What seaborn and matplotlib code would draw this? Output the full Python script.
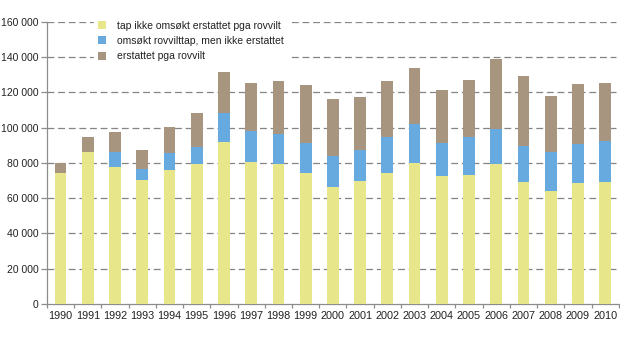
import matplotlib
matplotlib.use("Agg")
import matplotlib.pyplot as plt
import seaborn as sns
import pandas as pd
import numpy as np
from matplotlib.patches import Patch
from matplotlib.ticker import FuncFormatter, MultipleLocator

years = [str(y) for y in range(1990, 2011)]
# segment values
ikke_omsokt = [74000, 86100, 77400, 70300, 75900, 79300, 91600, 80500, 79300, 74000,
               66300, 69900, 74000, 80100, 72500, 73100, 79500, 69100, 64200, 68700, 69100]
omsokt_ikke_erstattet = [0, 0, 8900, 6200, 9500, 9500, 16400, 17700, 16800, 17000,
                         17400, 17200, 20800, 21700, 18500, 21300, 19700, 20600, 22100, 21800, 23300]
erstattet = [5700, 8500, 11000, 10900, 15100, 19600, 23500, 27000, 30100, 33300,
             32500, 30400, 31400, 32100, 30300, 32500, 39400, 39700, 31600, 34100, 32800]

labels = ["tap ikke omsøkt erstattet pga rovvilt",
          "omsøkt rovvilttap, men ikke erstattet",
          "erstattet pga rovvilt"]
colors = ["#e8e68a", "#66aae0", "#a89580"]

df = pd.DataFrame({"year": years, "a": ikke_omsokt, "b": omsokt_ikke_erstattet, "c": erstattet})
df["ab"] = df["a"] + df["b"]
df["abc"] = df["ab"] + df["c"]

sns.set_theme(style="white")
plt.rcParams['font.family'] = ['Liberation Sans', 'DejaVu Sans']

fig = plt.figure(figsize=(6.2, 3.38), dpi=100)
ax = fig.add_axes([0.0758, 0.1006, 0.9222, 0.8354])

w = 0.43
sns.barplot(data=df, x="year", y="abc", color=colors[2], saturation=1, width=w, ax=ax,
            edgecolor="none", zorder=3)
sns.barplot(data=df, x="year", y="ab", color=colors[1], saturation=1, width=w, ax=ax,
            edgecolor="none", zorder=3)
sns.barplot(data=df, x="year", y="a", color=colors[0], saturation=1, width=w, ax=ax,
            edgecolor="none", zorder=3)

ax.set_xlim(-0.5, len(years) - 0.5)
ax.set_ylim(0, 160000)
ax.yaxis.set_major_locator(MultipleLocator(20000))
ax.yaxis.set_major_formatter(FuncFormatter(lambda v, p: f"{int(v):,}".replace(",", " ")))
ax.set_xlabel("")
ax.set_ylabel("")

for v in range(20000, 160001, 20000):
    ax.axhline(v, xmin=0, xmax=0.995, color="#858585", lw=0.9, ls=(0, (5.5, 3)), zorder=1)

for s in ["top", "right"]:
    ax.spines[s].set_visible(False)
for s in ["left", "bottom"]:
    ax.spines[s].set_color("#8c8c8c")
    ax.spines[s].set_linewidth(0.9)

ax.tick_params(axis="y", which="major", length=4, width=0.9, color="#8c8c8c",
               labelsize=7.5, labelcolor="#222222", pad=2, left=True)
ax.tick_params(axis="x", which="major", length=0, labelsize=7.8, labelcolor="#222222", pad=5)
ax.set_xticks(np.arange(-0.5, len(years) + 0.5, 1), minor=True)
ax.tick_params(axis="x", which="minor", length=3, width=0.9, color="#8c8c8c", bottom=True)

handles = [Patch(facecolor=c, edgecolor="none", label=l) for c, l in zip(colors, labels)]
leg = fig.legend(handles=handles, loc="upper left", bbox_to_anchor=(0.143, 0.966),
                 frameon=True, fontsize=7.5, handlelength=0.8, handleheight=0.8,
                 handletextpad=1.0, labelspacing=0.5, borderpad=0.4, fancybox=False)
leg.get_frame().set_facecolor("white")
leg.get_frame().set_edgecolor("white")
leg.get_frame().set_alpha(1)
for t in leg.get_texts():
    t.set_color("#222222")

fig.savefig("out.png", dpi=100)
